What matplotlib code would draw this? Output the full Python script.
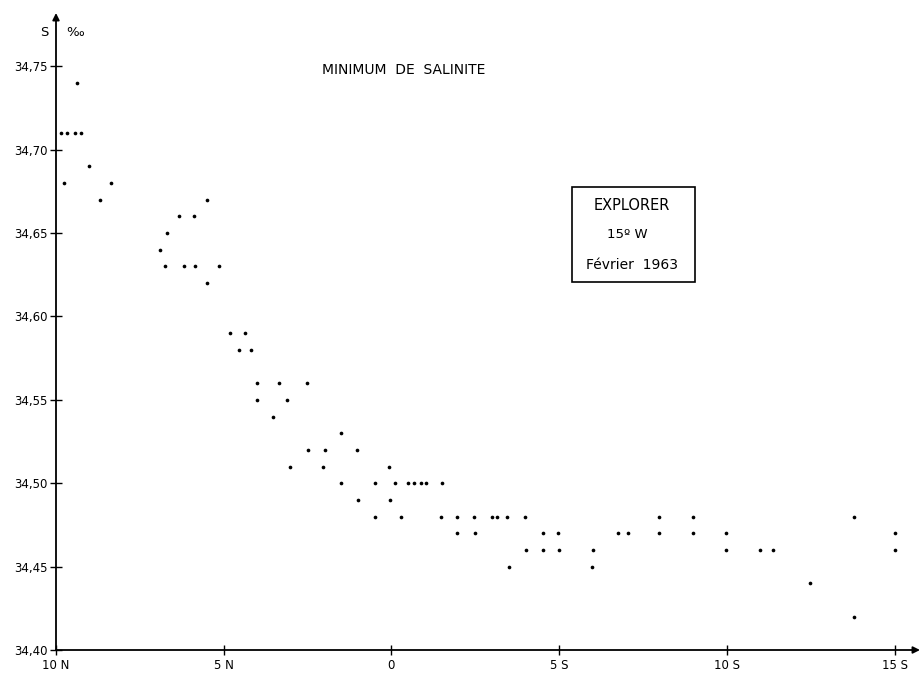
import matplotlib
matplotlib.use('Agg')
import matplotlib.pyplot as plt
from matplotlib.patches import Rectangle

# latitude in degrees (negative = North, positive = South), salinity minimum in per mille
latitude = [
    -9.36,
    -9.84, -9.66, -9.44, -9.24,
    -9.02,
    -9.77, -8.37,
    -8.69, -5.50,
    -6.33, -5.90,
    -6.68,
    -6.90,
    -6.74, -6.19, -5.87, -5.15,
    -5.51,
    -4.81, -4.37,
    -4.53, -4.20,
    -4.02, -3.35, -2.52,
    -4.00, -3.11,
    -3.52,
    -1.49,
    -2.49, -1.99, -1.02,
    -3.01, -2.05, -0.07,
    -1.49, -0.48, 0.12, 0.49, 0.66, 0.87, 1.04, 1.51,
    -1.01, -0.05,
    -0.49, 0.29, 1.47, 1.97, 2.47, 2.99, 3.16, 3.45, 3.97, 7.99, 8.98, 13.78,
    1.97, 2.49, 4.51, 4.98, 6.75, 7.06, 7.97, 8.99, 9.98, 15.00,
    4.00, 4.53, 4.99, 6.02, 9.99, 10.99, 11.37, 15.01,
    3.52, 5.99,
    12.49,
    13.78,
]
salinity = [
    34.74,
    34.71, 34.71, 34.71, 34.71,
    34.69,
    34.68, 34.68,
    34.67, 34.67,
    34.66, 34.66,
    34.65,
    34.64,
    34.63, 34.63, 34.63, 34.63,
    34.62,
    34.59, 34.59,
    34.58, 34.58,
    34.56, 34.56, 34.56,
    34.55, 34.55,
    34.54,
    34.53,
    34.52, 34.52, 34.52,
    34.51, 34.51, 34.51,
    34.50, 34.50, 34.50, 34.50, 34.50, 34.50, 34.50, 34.50,
    34.49, 34.49,
    34.48, 34.48, 34.48, 34.48, 34.48, 34.48, 34.48, 34.48, 34.48, 34.48, 34.48, 34.48,
    34.47, 34.47, 34.47, 34.47, 34.47, 34.47, 34.47, 34.47, 34.47, 34.47,
    34.46, 34.46, 34.46, 34.46, 34.46, 34.46, 34.46, 34.46,
    34.45, 34.45,
    34.44,
    34.42,
]

xticks = [-10, -5, 0, 5, 10, 15]
xtick_labels = ['10 N', '5 N', '0', '5 S', '10 S', '15 S']
yticks = [34.40, 34.45, 34.50, 34.55, 34.60, 34.65, 34.70, 34.75]
ytick_labels = ['34,40', '34,45', '34,50', '34,55', '34,60', '34,65', '34,70', '34,75']

W, H = 922, 675
fig = plt.figure(figsize=(W / 100, H / 100), dpi=100)

# axes box placed in pixel terms (origin at the axis corner)
left, right, bottom, top = 56, 920, 650, 13
ax = fig.add_axes([left / W, 1 - bottom / H, (right - left) / W, (bottom - top) / H])
ax.set_xlim(-10, 15.76)
ax.set_ylim(34.40, 34.782)

ax.scatter(latitude, salinity, s=7, color='black', linewidths=0, zorder=3)

for s in ['top', 'right', 'left', 'bottom']:
    ax.spines[s].set_visible(False)

# axes drawn as arrows
ax.annotate('', xy=(1.0, 0), xytext=(0, 0), xycoords='axes fraction',
            arrowprops=dict(arrowstyle='-|>', lw=1.3, color='black',
                            mutation_scale=10, shrinkA=0, shrinkB=0))
ax.annotate('', xy=(0, 1.0), xytext=(0, 0), xycoords='axes fraction',
            arrowprops=dict(arrowstyle='-|>', lw=1.3, color='black',
                            mutation_scale=10, shrinkA=0, shrinkB=0))

ax.set_xticks(xticks)
ax.set_xticklabels(xtick_labels)
ax.set_yticks(yticks)
ax.set_yticklabels(ytick_labels)
ax.tick_params(axis='both', direction='inout', length=8, width=1, colors='black',
               labelsize=8.5, pad=2)
ax.tick_params(axis='x', length=7, pad=3)

fig.text(44 / W, 1 - 32 / H, 'S', fontsize=9.5, ha='center', va='center')
fig.text(75 / W, 1 - 32 / H, '‰', fontsize=9.5, ha='center', va='center')
fig.text(404 / W, 1 - 70 / H, 'MINIMUM  DE  SALINITE', fontsize=10,
         ha='center', va='center')

# legend box
bx0, bx1, by0, by1 = 572, 695, 187, 282
fig.patches.append(Rectangle((bx0 / W, 1 - by1 / H), (bx1 - bx0) / W, (by1 - by0) / H,
                             transform=fig.transFigure, fill=False,
                             edgecolor='black', lw=1.2))
fig.text(632 / W, 1 - 205 / H, 'EXPLORER', fontsize=10.5, ha='center', va='center')
fig.text(627 / W, 1 - 234 / H, '15º W', fontsize=9.5, ha='center', va='center')
fig.text(632 / W, 1 - 265 / H, 'Février  1963', fontsize=10, ha='center', va='center')

plt.savefig('out.png', dpi=100)
plt.close()
